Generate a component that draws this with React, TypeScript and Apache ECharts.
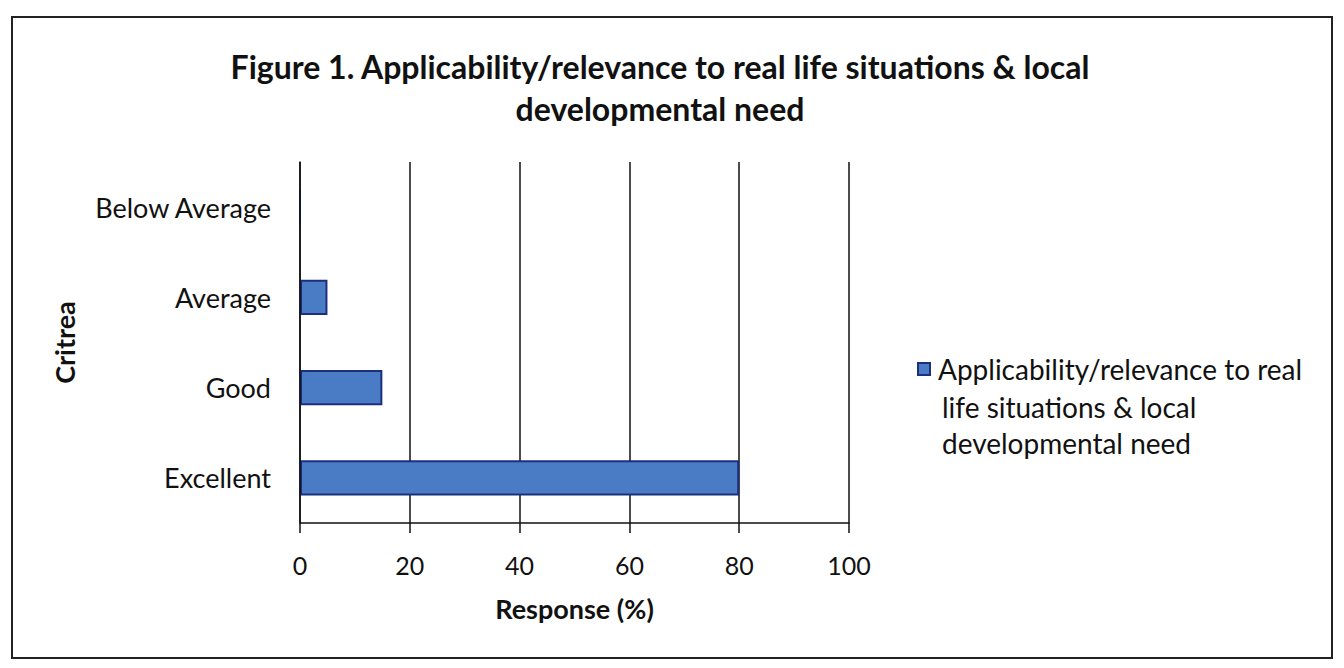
import React, { useEffect, useRef } from "react";
import * as echarts from "echarts";

const categories = ["Excellent", "Good", "Average", "Below Average"];
const values = [80, 15, 5, 0];
const xTicks = [0, 20, 40, 60, 80, 100];
const seriesName = "Applicability/relevance to real life situations & local developmental need";
const legendLines = ["Applicability/relevance to real", "life situations & local", "developmental need"];
const titleLines = ["Figure 1. Applicability/relevance to real life situations & local", "developmental need"];

const FONT = "Lato, 'Open Sans', sans-serif";

export default function App() {
  const ref = useRef<HTMLDivElement>(null);
  useEffect(() => {
    if (!ref.current) return;
    const chart = echarts.init(ref.current, null, { renderer: "svg" });
    chart.setOption({
      animation: false,
      backgroundColor: "#ffffff",
      textStyle: { fontFamily: FONT, color: "#111" },
      title: {
        text: titleLines.join("\n"),
        left: 660,
        top: 45,
        padding: 0,
        textAlign: "center",
        textStyle: { fontFamily: FONT, fontSize: 32, fontWeight: "bold", color: "#111", lineHeight: 42 },
      },
      legend: {
        show: true,
        left: 917,
        top: 351,
        padding: 0,
        orient: "vertical",
        icon: "rect",
        itemWidth: 12,
        itemHeight: 12,
        itemGap: 6,
        formatter: () => legendLines[0],
        textStyle: { fontFamily: FONT, fontSize: 28, color: "#111", lineHeight: 36, padding: [0, 0, 0, 3] },
        data: [seriesName],
      },
      grid: { left: 300, right: 495, top: 162, bottom: 145, containLabel: false },
      xAxis: {
        type: "value",
        min: 0,
        max: 100,
        interval: 20,
        name: "Response (%)",
        nameLocation: "middle",
        nameGap: 72,
        nameTextStyle: { fontFamily: FONT, fontSize: 27, fontWeight: "bold", color: "#111" },
        axisLine: { show: true, lineStyle: { color: "#111", width: 1.5 } },
        axisTick: { show: true, length: 10, lineStyle: { color: "#111", width: 1.5 } },
        splitLine: { show: true, lineStyle: { color: "#111", width: 1.5 } },
        axisLabel: {
          fontFamily: FONT,
          fontSize: 25,
          color: "#111",
          margin: 29,
          formatter: (v: number) => (xTicks.includes(v) ? String(v) : ""),
        },
      },
      yAxis: {
        type: "category",
        data: categories,
        name: "Critrea",
        nameLocation: "middle",
        nameGap: 222,
        nameRotate: 90,
        nameTextStyle: { fontFamily: FONT, fontSize: 27, fontWeight: "bold", color: "#111" },
        axisLine: { show: true, lineStyle: { color: "#111", width: 1.5 } },
        axisTick: { show: false },
        z: 5,
        axisLabel: { fontFamily: FONT, fontSize: 27, color: "#111", margin: 29 },
      },
      graphic: [
        {
          type: "rect",
          shape: { x: 12, y: 17, width: 1320, height: 641 },
          style: { fill: "none", stroke: "#222", lineWidth: 2 },
          silent: true,
          z: -1,
        },
        {
          type: "text",
          left: 942,
          top: 389,
          style: {
            text: legendLines.slice(1).join("\n"),
            font: `28px ${FONT}`,
            fill: "#111",
            lineHeight: 36,
          },
          silent: true,
        },
      ],
      series: [
        {
          name: seriesName,
          type: "bar",
          data: values,
          barCategoryGap: "61%",
          itemStyle: { color: "#4a7cc6", borderColor: "#1c2f7e", borderWidth: 2 },
        },
      ],
    });
    return () => chart.dispose();
  }, []);
  return <div ref={ref} style={{ position: "fixed", left: 0, top: 0, width: 1344, height: 668 }} />;
}
